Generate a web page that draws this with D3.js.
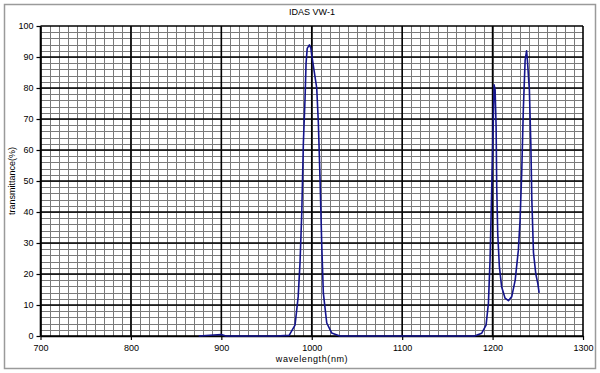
<!DOCTYPE html>
<html>
<head>
<meta charset="utf-8">
<script src="https://cdn.jsdelivr.net/npm/d3@7"></script>
<style>
  body { margin: 0; background: #fff; }
  text { font-family: "Liberation Sans", Arial, sans-serif; fill: #000; }
</style>
</head>
<body>
<div id="chart"></div>
<script>
// chart data
var wavelength = [875, 900, 905, 960, 975, 981.5, 985, 987, 989, 990.7, 992.6, 993.7, 995, 997.4, 999, 1000,
    1002.5, 1005.5, 1007.3, 1009.2, 1011, 1012.8, 1016.6, 1022, 1031,
    1180, 1188, 1192.8, 1195.4, 1197.2, 1199, 1200.2, 1201.7, 1202.8, 1203.9, 1204.6, 1205.7, 1207.5,
    1210, 1213.8, 1217.5, 1221.2, 1225, 1228.5, 1230.4, 1232.3, 1234, 1236, 1237.6, 1238.5, 1240.7,
    1242.3, 1243.4, 1245.2, 1247.8, 1250, 1251.5];
var transmittance = [0, 0.5, 0, 0, 0.2, 3.5, 12.7, 23.5, 40, 62, 76.7, 88, 92.8, 93.9, 92.9, 90.6,
    85.8, 80, 68.7, 50.3, 30, 13.9, 4.2, 1, 0,
    0, 0.9, 3.5, 10.6, 24.5, 47, 62, 81, 79.4, 67.5, 48, 33, 22.4,
    15.9, 12.2, 11.4, 12.7, 18, 27.7, 37.4, 53.5, 73, 89, 92, 89, 79.4,
    62, 44, 27, 20, 17, 13.9];
var x_ticks = [700, 800, 900, 1000, 1100, 1200, 1300];
var y_ticks = [0, 10, 20, 30, 40, 50, 60, 70, 80, 90, 100];
var chart_title = "IDAS VW-1";
var x_title = "wavelength(nm)";
var y_title = "transmittance(%)";

var width = 600;
var height = 373;
var margin = ({top: 26, right: 17, bottom: 37, left: 40.5});

var svg = d3.select("#chart")
    .append("svg")
    .attr("width", width)
    .attr("height", height);

// outer frame
svg.append("rect")
    .attr("x", 4.5).attr("y", 4.5)
    .attr("width", 591).attr("height", 364)
    .attr("fill", "none")
    .attr("stroke", "#9a9a9a")
    .attr("stroke-width", 1.5);

var x = d3.scaleLinear()
    .domain([700, 1300])
    .range([margin.left, width - margin.right]);
var y = d3.scaleLinear()
    .domain([0, 100])
    .range([height - margin.bottom, margin.top]);

// minor grid
var grid = svg.append("g");
grid.selectAll(".vminor")
    .data(d3.range(710, 1300, 10))
    .enter().append("line")
    .attr("x1", function(d) { return Math.round(x(d)) + 0.5; })
    .attr("x2", function(d) { return Math.round(x(d)) + 0.5; })
    .attr("y1", y(0)).attr("y2", y(100))
    .attr("stroke", "#7a7a7a").attr("stroke-width", 1);
grid.selectAll(".hminor")
    .data(d3.range(2, 100, 2))
    .enter().append("line")
    .attr("y1", function(d) { return Math.round(y(d)) + 0.5; })
    .attr("y2", function(d) { return Math.round(y(d)) + 0.5; })
    .attr("x1", x(700)).attr("x2", x(1300))
    .attr("stroke", "#7a7a7a").attr("stroke-width", 1);

// major grid
grid.selectAll(".vmajor")
    .data(x_ticks)
    .enter().append("line")
    .attr("x1", function(d) { return x(d); })
    .attr("x2", function(d) { return x(d); })
    .attr("y1", y(0)).attr("y2", y(100))
    .attr("stroke", "#000").attr("stroke-width", 1.6);
grid.selectAll(".hmajor")
    .data(y_ticks)
    .enter().append("line")
    .attr("y1", function(d) { return y(d); })
    .attr("y2", function(d) { return y(d); })
    .attr("x1", x(700)).attr("x2", x(1300))
    .attr("stroke", "#000").attr("stroke-width", 1.6);

// axes
var x_axis = svg.append("g")
    .attr("transform", "translate(0," + y(0) + ")")
    .call(d3.axisBottom(x).tickValues(x_ticks).tickFormat(d3.format("d"))
        .tickSize(4).tickPadding(5).tickSizeOuter(0));
var y_axis = svg.append("g")
    .attr("transform", "translate(" + x(700) + ",0)")
    .call(d3.axisLeft(y).tickValues(y_ticks).tickFormat(d3.format("d"))
        .tickSize(4).tickPadding(3).tickSizeOuter(0));
[x_axis, y_axis].forEach(function(a) {
    a.select(".domain").attr("stroke", "#000").attr("stroke-width", 1.6);
    a.selectAll(".tick line").attr("stroke", "#000").attr("stroke-width", 1.2);
    a.selectAll(".tick text")
        .style("font-family", "'Liberation Sans', Arial, sans-serif")
        .style("font-size", "9px")
        .attr("fill", "#000");
});

// curve
var pts = wavelength.map(function(w, i) { return [w, transmittance[i]]; });
var line = d3.line()
    .x(function(d) { return x(d[0]); })
    .y(function(d) { return y(d[1]); });
svg.append("path")
    .datum(pts)
    .attr("fill", "none")
    .attr("stroke", "#14148c")
    .attr("stroke-width", 1.6)
    .attr("stroke-linejoin", "round")
    .attr("d", line);

// titles
svg.append("text")
    .attr("x", 312).attr("y", 15)
    .attr("text-anchor", "middle")
    .style("font-size", "9px")
    .text(chart_title);
svg.append("text")
    .attr("x", 312).attr("y", 362)
    .attr("text-anchor", "middle")
    .style("font-size", "9px")
    .style("letter-spacing", "0.6px")
    .text(x_title);
svg.append("text")
    .attr("transform", "translate(15," + y(50) + ") rotate(-90)")
    .attr("text-anchor", "middle")
    .style("font-size", "9px")
    .text(y_title);
</script>
</body>
</html>
